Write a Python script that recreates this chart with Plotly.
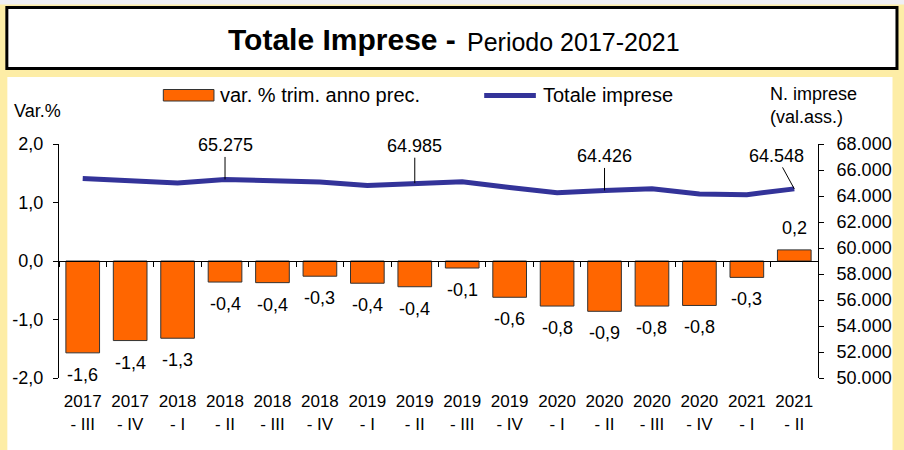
import plotly.graph_objects as go

# ---------------- data ----------------
categories = ["2017 - III", "2017 - IV", "2018 - I", "2018 - II", "2018 - III", "2018 - IV",
              "2019 - I", "2019 - II", "2019 - III", "2019 - IV", "2020 - I", "2020 - II",
              "2020 - III", "2020 - IV", "2021 - I", "2021 - II"]
tick_labels = [c.replace(" - ", "<br>- ") for c in categories]
var_pct = [-1.57, -1.36, -1.32, -0.36, -0.37, -0.26, -0.38, -0.44, -0.12, -0.62,
           -0.77, -0.86, -0.77, -0.76, -0.28, 0.19]
totale = [65350, 65200, 65000, 65275, 65180, 65080, 64800, 64985, 65100, 64650,
          64250, 64426, 64550, 64150, 64100, 64548]
# labelled points of the line: index -> (ax, ay) offsets of the callout
line_callouts = {3: (0, -34), 7: (0, -37), 11: (0, -34), 15: (-18, -33)}
left_ticks = [-2.0, -1.0, 0.0, 1.0, 2.0]
left_ticktext = ["-2,0", "-1,0", "0,0", "1,0", "2,0"]

FONT = "Liberation Sans, Arial, sans-serif"
ORANGE = "#FF6600"
BLUE = "#333399"
YELLOW = "#FDEDA6"

# plot area geometry (pixels)
L, R, T, B = 57, 821, 144, 378
W, H = R - L, B - T


def px_x(px):
    return (px - L) / W


def px_y(py):
    return (B - py) / H


def fmt1(v):
    return f"{v:.1f}".replace(".", ",")


def fmt_int(v):
    return f"{v:,}".replace(",", ".")


fig = go.Figure()

fig.add_trace(go.Bar(
    x=categories, y=var_pct, xaxis="x2", yaxis="y",
    marker=dict(color=ORANGE, line=dict(color="#333333", width=1)),
    name="var. % trim. anno prec.", showlegend=False,
))
fig.add_trace(go.Scatter(
    x=categories, y=totale, xaxis="x", yaxis="y2", mode="lines",
    line=dict(color=BLUE, width=5), name="Totale imprese", showlegend=False,
))

annotations = []
# bar value labels
for c, v in zip(categories, var_pct):
    annotations.append(dict(
        x=c, y=v, xref="x2", yref="y", text=fmt1(v), showarrow=False,
        yanchor="top" if v < 0 else "bottom", yshift=-10 if v < 0 else 10,
        font=dict(family=FONT, size=18, color="black"),
    ))
# line callouts
for i, (ax, ay) in line_callouts.items():
    annotations.append(dict(
        x=categories[i], y=totale[i], xref="x", yref="y2", text=fmt_int(totale[i]),
        showarrow=True, arrowhead=0, arrowwidth=1, arrowcolor="black",
        ax=ax, ay=ay, standoff=0,
        font=dict(family=FONT, size=18, color="black"),
    ))
# title
annotations.append(dict(
    x=px_x(459), y=px_y(39.5), xref="paper", yref="paper", showarrow=False,
    text="<b>Totale Imprese -</b>", xanchor="right", yanchor="middle",
    font=dict(family=FONT, size=30, color="black"),
))
annotations.append(dict(
    x=px_x(466), y=px_y(41.5), xref="paper", yref="paper", showarrow=False,
    text="Periodo 2017-2021", xanchor="left", yanchor="middle",
    font=dict(family=FONT, size=25, color="black"),
))
# axis titles
annotations.append(dict(
    x=px_x(10), y=px_y(111), xref="paper", yref="paper", showarrow=False,
    text="Var.%", xanchor="left", yanchor="middle",
    font=dict(family=FONT, size=18, color="black"),
))
annotations.append(dict(
    x=px_x(771), y=px_y(106), xref="paper", yref="paper", showarrow=False,
    text="N. imprese<br>(val.ass.)", xanchor="left", yanchor="middle", align="left",
    font=dict(family=FONT, size=18, color="black"),
))
# legend texts
annotations.append(dict(
    x=px_x(217), y=px_y(95), xref="paper", yref="paper", showarrow=False,
    text="var. % trim. anno prec.", xanchor="left", yanchor="middle",
    font=dict(family=FONT, size=20, color="black"),
))
annotations.append(dict(
    x=px_x(542), y=px_y(95), xref="paper", yref="paper", showarrow=False,
    text="Totale imprese", xanchor="left", yanchor="middle",
    font=dict(family=FONT, size=20, color="black"),
))

shapes = [
    # top strip
    dict(type="rect", xref="paper", yref="paper", x0=px_x(-5), x1=px_x(910),
         y0=px_y(4.5), y1=px_y(-5), fillcolor="#EFEFF3", line=dict(width=0), layer="below"),
    # title box
    dict(type="rect", xref="paper", yref="paper", x0=px_x(4.5), x1=px_x(900.5),
         y0=px_y(68.5), y1=px_y(7.5), fillcolor="white",
         line=dict(color="black", width=3), layer="below"),
    # white chart panel
    dict(type="rect", xref="paper", yref="paper", x0=px_x(5), x1=px_x(896),
         y0=px_y(460), y1=px_y(77), fillcolor="white", line=dict(width=0), layer="below"),
    # legend swatches
    dict(type="rect", xref="paper", yref="paper", x0=px_x(162), x1=px_x(213),
         y0=px_y(101), y1=px_y(89.5), fillcolor=ORANGE,
         line=dict(color="#333333", width=1)),
    dict(type="line", xref="paper", yref="paper", x0=px_x(485), x1=px_x(537),
         y0=px_y(95.5), y1=px_y(95.5), line=dict(color=BLUE, width=5)),
]

fig.update_layout(
    width=904, height=450,
    margin=dict(l=L, r=904 - R, t=T, b=450 - B, pad=0),
    paper_bgcolor=YELLOW, plot_bgcolor="rgba(0,0,0,0)",
    separators=",.",
    bargap=0.29,
    showlegend=False,
    font=dict(family=FONT, size=17, color="black"),
    xaxis=dict(
        type="category", categoryorder="array", categoryarray=categories,
        tickvals=categories, ticktext=tick_labels,
        range=[-0.5, len(categories) - 0.5],
        showline=False, showgrid=False, zeroline=False,
        ticks="outside", ticklen=8, tickcolor="rgba(0,0,0,0)",
        tickfont=dict(family=FONT, size=17, color="black"),
        fixedrange=True,
    ),
    xaxis2=dict(
        type="category", categoryorder="array", categoryarray=categories,
        overlaying="x", anchor="free", position=0.5, side="bottom",
        range=[-0.5, len(categories) - 0.5],
        showline=True, linecolor="black", linewidth=1,
        showgrid=False, zeroline=False, showticklabels=False,
        ticks="outside", tickson="boundaries", ticklen=5, tickcolor="black",
        fixedrange=True,
    ),
    yaxis=dict(
        range=[-2, 2], tickvals=left_ticks, ticktext=left_ticktext,
        showline=True, linecolor="black", linewidth=1,
        ticks="outside", ticklen=5, tickcolor="black",
        showgrid=False, zeroline=False, ticklabelstandoff=6,
        tickfont=dict(family=FONT, size=18, color="black"),
        fixedrange=True,
    ),
    yaxis2=dict(
        range=[50000, 68000], dtick=2000, tickformat=",d",
        overlaying="y", side="right", anchor="x",
        showline=True, linecolor="black", linewidth=1,
        ticks="outside", ticklen=5, tickcolor="black",
        showgrid=False, zeroline=False, ticklabelstandoff=9,
        tickfont=dict(family=FONT, size=18, color="black"),
        fixedrange=True,
    ),
    annotations=annotations,
    shapes=shapes,
)

fig.write_html(
    "out.html",
    config={"displayModeBar": False},
    post_script="document.body.style.margin='0';document.body.style.padding='0';",
)
